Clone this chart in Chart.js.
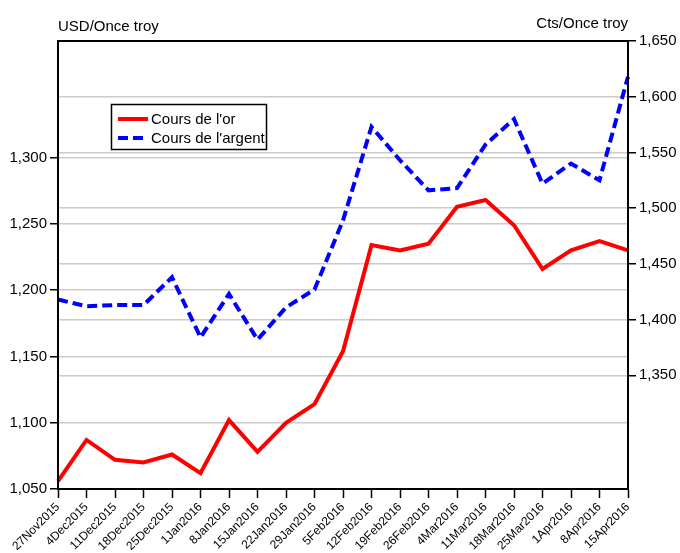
<!DOCTYPE html>
<html>
<head>
<meta charset="utf-8">
<script src="https://cdn.jsdelivr.net/npm/chart.js@4.4.0/dist/chart.umd.min.js"></script>
<style>
  body { margin: 0; background: #fff; }
  #wrap { width: 680px; height: 553px; position: relative; }
</style>
</head>
<body>
<div id="wrap"><canvas id="chart"></canvas></div>
<script>
const weeks = ['27Nov2015', '4Dec2015', '11Dec2015', '18Dec2015', '25Dec2015', '1Jan2016', '8Jan2016',
	'15Jan2016', '22Jan2016', '29Jan2016', '5Feb2016', '12Feb2016', '19Feb2016', '26Feb2016',
	'4Mar2016', '11Mar2016', '18Mar2016', '25Mar2016', '1Apr2016', '8Apr2016', '15Apr2016'];

// or, USD/once troy (axe gauche)
const gold = [1056, 1087, 1072, 1070, 1076, 1062, 1102, 1078, 1100, 1114, 1154,
	1234, 1230, 1235, 1263, 1268, 1249, 1216, 1230, 1237, 1230];

// argent, cts/once troy (axe droit)
const silver = [1418, 1412, 1413, 1413, 1438, 1384, 1423, 1382, 1411, 1427, 1489,
	1573, 1543, 1516, 1518, 1557, 1580, 1522, 1540, 1525, 1618];

const goldTicks = [1050, 1100, 1150, 1200, 1250, 1300];
const silverTicks = [1350, 1400, 1450, 1500, 1550, 1600, 1650];

const FONT = "'Liberation Sans', Arial, sans-serif";
Chart.defaults.font.family = FONT;
Chart.defaults.color = '#000';

const fmt = v => v.toLocaleString('en-US');

// cadre, titres des axes et légende
const decor = {
	id: 'decor',
	afterDraw(chart) {
		const { ctx, chartArea: a } = chart;
		ctx.save();
		ctx.strokeStyle = '#000';
		ctx.lineWidth = 2;
		ctx.strokeRect(a.left, a.top, a.right - a.left, a.bottom - a.top);

		ctx.fillStyle = '#000';
		ctx.font = '15px ' + FONT;
		ctx.textBaseline = 'alphabetic';
		ctx.textAlign = 'left';
		ctx.fillText('USD/Once troy', a.left, 31);
		ctx.textAlign = 'right';
		ctx.fillText('Cts/Once troy', a.right, 28);

		// légende
		ctx.lineWidth = 1.5;
		ctx.strokeRect(111.5, 104.5, 155, 45);
		ctx.textAlign = 'left';
		ctx.textBaseline = 'middle';
		chart.data.datasets.forEach((ds, i) => {
			const y = 119 + i * 19;
			ctx.beginPath();
			ctx.strokeStyle = ds.borderColor;
			ctx.lineWidth = 4;
			ctx.setLineDash(ds.borderDash || []);
			ctx.moveTo(118, y);
			ctx.lineTo(148, y);
			ctx.stroke();
			ctx.setLineDash([]);
			ctx.fillText(ds.label, 151, y + 1);
		});
		ctx.restore();
	}
};

const ctx = document.getElementById('chart').getContext('2d');
new Chart(ctx, {
	type: 'line',
	data: {
		labels: weeks,
		datasets: [
			{
				label: "Cours de l'or",
				data: gold,
				yAxisID: 'y',
				borderColor: '#ff0000',
				borderWidth: 4,
				pointRadius: 0,
				tension: 0,
			},
			{
				label: "Cours de l'argent",
				data: silver,
				yAxisID: 'y1',
				borderColor: '#0000ff',
				borderWidth: 4,
				borderDash: [10, 5],
				pointRadius: 0,
				tension: 0,
			},
		],
	},
	options: {
		responsive: true,
		maintainAspectRatio: false,
		animation: false,
		layout: { padding: { top: 41, left: 0, right: 0, bottom: 0 } },
		plugins: {
			legend: { display: false },
			tooltip: { enabled: false },
		},
		scales: {
			x: {
				offset: false,
				grid: { drawOnChartArea: false, tickLength: 9, tickColor: '#000', tickWidth: 1.5 },
				border: { color: '#000', width: 2 },
				ticks: { autoSkip: false, minRotation: 45, maxRotation: 45, padding: 2, font: { size: 12 } },
				afterFit(s) { s.height = 64; },
			},
			y: {
				position: 'left',
				min: 1050,
				max: 1388,
				grid: { color: '#cccccc', lineWidth: 1.5, tickColor: '#000', tickLength: 8, tickWidth: 1.5 },
				border: { color: '#000', width: 2 },
				ticks: { padding: 3, font: { size: 15 }, callback: fmt },
				afterBuildTicks(s) { s.ticks = goldTicks.map(v => ({ value: v })); },
				afterFit(s) { s.width = 58; },
			},
			y1: {
				position: 'right',
				min: 1248,
				max: 1650,
				grid: { color: '#cccccc', lineWidth: 1.5, tickColor: '#000', tickLength: 8, tickWidth: 1.5 },
				border: { color: '#000', width: 2 },
				ticks: { padding: 3, font: { size: 15 }, callback: fmt },
				afterBuildTicks(s) { s.ticks = silverTicks.map(v => ({ value: v })); },
				afterFit(s) { s.width = 52; },
			},
		},
	},
	plugins: [decor],
});
</script>
</body>
</html>
